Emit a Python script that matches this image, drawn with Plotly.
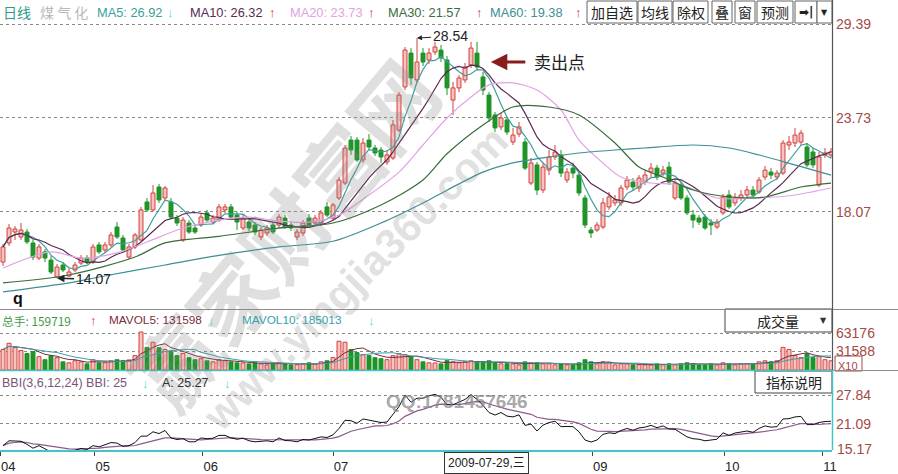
import plotly.graph_objects as go
import pandas as pd

# ---------------- data (daily candles, Apr-Nov 2009) ----------------
OPEN = [15.05, 16.20, 16.86, 16.56, 16.86, 16.20, 15.29, 15.66, 15.17, 14.15,
        14.87, 14.21, 14.57, 14.99, 15.29, 15.05, 16.08, 15.78, 16.08, 17.16,
        16.50, 15.35, 15.96, 16.38, 18.67, 18.19, 19.57, 18.91, 18.67, 17.70,
        16.38, 17.40, 17.10, 17.28, 18.01, 17.46, 17.58, 18.19, 18.37, 17.88,
        17.10, 17.46, 17.28, 16.56, 16.80, 17.28, 17.28, 17.70, 17.28, 16.56,
        16.80, 17.70, 17.40, 17.40, 18.37, 17.70, 18.91, 19.81, 22.40, 22.40,
        21.20, 22.40, 21.92, 21.80, 21.08, 21.32, 23.00, 25.60, 27.64, 26.02,
        27.64, 27.22, 27.70, 27.82, 27.22, 24.81, 25.54, 26.02, 26.92, 27.64,
        26.20, 25.11, 23.91, 23.19, 23.61, 22.28, 22.76, 22.28, 19.81, 20.90,
        19.39, 20.59, 21.38, 21.50, 19.99, 20.71, 20.29, 18.91, 16.98, 16.98,
        17.16, 18.37, 18.61, 18.61, 19.57, 19.87, 19.51, 19.87, 20.47, 20.71,
        20.41, 20.77, 18.91, 19.69, 18.91, 17.88, 17.70, 17.76, 17.40, 17.16,
        18.01, 19.09, 18.61, 18.91, 19.09, 19.39, 19.27, 20.17, 20.47, 20.17,
        20.41, 22.10, 22.22, 22.28, 21.98, 21.68, 19.69, 21.50, 21.50]
HIGH = [16.14, 17.34, 17.22, 17.40, 17.04, 16.38, 16.14, 15.84, 15.41, 14.93,
        15.05, 14.69, 15.05, 15.47, 15.47, 16.14, 16.26, 16.26, 16.86, 17.46,
        16.68, 16.14, 16.80, 18.37, 18.91, 19.69, 19.75, 19.63, 18.91, 17.88,
        17.76, 17.58, 17.28, 17.94, 18.19, 17.88, 18.55, 18.55, 18.55, 18.07,
        17.94, 17.64, 17.46, 17.16, 17.28, 17.46, 17.94, 17.88, 17.46, 17.04,
        17.58, 17.94, 17.88, 18.19, 18.67, 18.61, 20.17, 22.10, 22.64, 22.58,
        22.52, 22.76, 22.10, 21.98, 21.80, 23.61, 25.29, 28.00, 27.94, 28.54,
        27.94, 27.94, 28.31, 28.13, 27.46, 25.90, 26.32, 27.04, 28.31, 28.31,
        26.50, 25.29, 24.09, 24.03, 23.79, 23.13, 23.49, 22.52, 21.32, 21.08,
        21.02, 21.80, 22.10, 21.80, 20.71, 21.02, 20.47, 19.09, 17.16, 17.46,
        18.91, 19.27, 19.09, 19.69, 20.23, 20.11, 20.29, 20.53, 21.02, 20.90,
        20.84, 21.08, 19.99, 19.87, 19.09, 18.19, 17.88, 17.94, 17.64, 17.64,
        19.15, 19.39, 19.21, 19.39, 19.63, 19.63, 20.17, 20.84, 20.71, 20.59,
        22.40, 22.64, 23.13, 23.00, 22.22, 21.92, 21.68, 21.92, 21.92]
LOW = [14.81, 16.02, 16.38, 16.38, 16.14, 15.17, 15.17, 15.05, 14.33, 14.07,
       14.45, 14.15, 14.45, 14.87, 14.93, 14.93, 15.53, 15.60, 15.96, 16.44,
       15.66, 15.23, 15.84, 16.32, 18.07, 18.07, 18.61, 18.79, 17.64, 17.22,
       16.26, 16.74, 16.74, 17.16, 17.46, 17.34, 17.46, 18.01, 17.64, 16.98,
       16.98, 16.92, 16.68, 16.38, 16.62, 16.74, 17.10, 17.04, 16.92, 16.38,
       16.62, 17.16, 17.22, 17.22, 17.76, 17.58, 18.79, 19.69, 21.50, 21.08,
       21.02, 21.80, 21.44, 21.02, 20.90, 21.20, 22.88, 25.41, 25.72, 25.84,
       26.86, 26.98, 27.52, 27.10, 25.11, 23.91, 25.29, 25.84, 26.74, 26.62,
       25.11, 23.49, 22.88, 23.00, 22.70, 22.10, 22.58, 20.59, 19.69, 19.09,
       19.21, 20.29, 21.20, 20.17, 19.81, 20.11, 19.03, 17.10, 16.50, 16.86,
       17.04, 18.19, 18.43, 18.43, 19.39, 19.39, 19.27, 19.69, 20.17, 19.99,
       20.23, 19.69, 18.79, 18.79, 17.88, 17.10, 17.28, 16.98, 16.68, 17.04,
       17.88, 18.25, 18.43, 18.73, 18.91, 18.97, 19.15, 19.99, 20.05, 19.99,
       20.29, 21.80, 21.98, 22.10, 20.77, 20.71, 19.57, 21.32, 21.32]
CLOSE = [15.96, 17.10, 17.04, 16.98, 16.26, 15.35, 15.96, 15.29, 14.45, 14.75,
         14.57, 14.45, 14.87, 15.29, 15.05, 15.96, 15.66, 16.08, 16.68, 16.56,
         15.78, 15.96, 16.68, 18.19, 18.19, 19.21, 18.79, 19.51, 17.76, 17.40,
         17.58, 16.86, 16.86, 17.76, 17.58, 17.70, 18.37, 18.37, 17.76, 17.46,
         17.70, 17.10, 16.86, 16.98, 17.10, 16.86, 17.76, 17.16, 17.10, 16.86,
         17.40, 17.28, 17.70, 18.01, 17.88, 18.49, 19.99, 21.92, 21.80, 21.20,
         22.22, 21.98, 21.62, 21.38, 21.50, 23.31, 25.11, 27.82, 26.14, 27.10,
         27.10, 27.64, 28.00, 27.34, 25.54, 25.54, 26.14, 26.80, 27.94, 26.80,
         25.41, 23.73, 23.13, 23.73, 22.88, 22.70, 23.19, 20.71, 21.02, 19.39,
         20.77, 21.38, 21.68, 20.41, 20.47, 20.41, 19.21, 17.28, 16.80, 17.28,
         18.61, 18.97, 18.79, 19.51, 19.99, 19.57, 20.11, 20.29, 20.71, 20.17,
         20.59, 19.87, 19.81, 18.91, 18.01, 17.58, 17.46, 17.10, 17.28, 17.46,
         18.97, 18.37, 18.91, 19.09, 19.39, 19.09, 19.99, 20.59, 20.29, 20.41,
         22.22, 22.28, 22.70, 22.82, 20.90, 20.90, 21.38, 21.62, 21.68]
VOLUME = [351000, 456000, 386000, 333000, 281000, 316000, 228000, 176000, 246000, 211000,
          140000, 123000, 158000, 140000, 105000, 176000, 123000, 125000, 158000, 176000,
          160000, 172000, 246000, 649000, 386000, 474000, 380000, 351000, 316000, 246000,
          281000, 211000, 176000, 193000, 158000, 140000, 176000, 158000, 140000, 123000,
          120000, 105000, 123000, 105000, 88000, 105000, 123000, 105000, 88000, 90000,
          105000, 123000, 105000, 140000, 158000, 211000, 491000, 474000, 351000, 298000,
          263000, 246000, 211000, 193000, 176000, 246000, 281000, 263000, 228000, 176000,
          140000, 123000, 120000, 105000, 159719, 140000, 123000, 140000, 158000, 145000,
          140000, 158000, 123000, 105000, 108000, 105000, 88000, 140000, 123000, 125000,
          105000, 105000, 88000, 105000, 88000, 86000, 123000, 176000, 140000, 105000,
          140000, 123000, 88000, 105000, 105000, 88000, 90000, 88000, 86000, 105000,
          88000, 105000, 88000, 105000, 123000, 105000, 88000, 90000, 105000, 88000,
          123000, 105000, 88000, 105000, 108000, 105000, 140000, 158000, 140000, 158000,
          386000, 351000, 246000, 211000, 281000, 211000, 228000, 176000, 158000]

# slow moving averages (candle index -> price)
MA20_IDX = [0, 8, 13, 19, 24, 30, 36, 41, 46, 51, 56, 61, 66, 70, 74, 78, 81, 85, 89, 93, 96, 100, 103, 108, 113, 119, 126, 132, 138]
MA20_VAL = [14.69, 15.66, 15.29, 15.60, 16.26, 17.10, 17.58, 17.76, 17.52, 17.46, 17.88, 19.09, 20.47, 22.10, 23.73, 24.99, 25.72, 25.84, 25.41, 24.21, 22.40, 21.02, 20.17, 19.81, 19.69, 18.91, 18.91, 19.09, 19.51]
MA30_IDX = [0, 11, 22, 27, 36, 46, 55, 63, 70, 74, 80, 85, 91, 96, 102, 106, 110, 115, 121, 127, 133, 138]
MA30_VAL = [13.79, 14.27, 15.35, 16.20, 16.60, 17.10, 17.40, 18.49, 19.99, 21.57, 23.31, 24.39, 24.39, 23.91, 22.22, 20.77, 20.17, 19.39, 18.97, 18.97, 19.57, 19.81]
MA60_IDX = [0, 11, 16, 27, 36, 46, 55, 63, 70, 74, 80, 85, 91, 96, 102, 107, 115, 121, 126, 132, 138]
MA60_VAL = [13.25, 13.79, 14.15, 14.87, 15.45, 15.96, 16.30, 17.40, 18.61, 19.38, 20.47, 21.02, 21.38, 21.62, 21.80, 21.92, 22.10, 21.92, 21.50, 20.90, 20.29]

MONTH_TICK_POS = [-0.45, 15.3, 33.3, 55.0, 98.2, 120.2, 136.5]
MONTH_TICK_TEXT = ["04", "05", "06", "07", "09", "10", "11"]
PRICE_TICKS = [18.07, 23.73, 29.39]
VOL_TICKS = [315880, 631760]
VOL_TICK_TEXT = ["31588", "63176"]
BBI_TICKS = [21.09, 27.84]
BBI_LOW_LABEL = 15.17

HEADER_MA = [("MA5", "26.92", "↓"), ("MA10", "26.32", "↑"), ("MA20", "23.73", "↑"),
             ("MA30", "21.57", "↑"), ("MA60", "19.38", "↑")]
VOL_HEADER = [("总手", "159719", "↑"), ("MAVOL5", "131598", "↓"), ("MAVOL10", "185013", "↓")]
BBI_HEADER = [("BBI(3,6,12,24) BBI", "25", "↓"), ("A", "25.27", "↓")]
CROSS_DATE = "2009-07-29,三"

# ---------------- derived series ----------------
n = min(len(OPEN), len(HIGH), len(LOW), len(CLOSE), len(VOLUME))
idx = list(range(n))
o, h, l, c, v = OPEN[:n], HIGH[:n], LOW[:n], CLOSE[:n], VOLUME[:n]
up = [c[i] >= o[i] for i in idx]
cs = pd.Series(c, dtype=float)
ma5 = cs.rolling(5, min_periods=1).mean()
ma10 = cs.rolling(10, min_periods=1).mean()
bbi = sum(cs.rolling(k, min_periods=1).mean() for k in (3, 6, 12, 24)) / 4
vs = pd.Series(v, dtype=float)
mavol5 = vs.rolling(5, min_periods=1).mean()
mavol10 = vs.rolling(10, min_periods=1).mean()

# ---------------- styling / geometry ----------------
W, H, PW = 898, 474, 832
FONT = "Liberation Sans, Noto Sans CJK SC, sans-serif"
CJK = "Noto Sans CJK SC, sans-serif"
RED = "#d4403c"
RED_FILL = "#f6c4c2"
GREEN = "#1f9428"
AXIS_TXT = "#a34a46"
TEAL_AX = "#45c3c8"
CYAN_ARROW = "#6fd3d3"
UP_ARROW = "#d8262a"
MA_COLORS = {"MA5": "#3c9f9c", "MA10": "#5a2a52", "MA20": "#e3a2e3", "MA30": "#3b6b3b", "MA60": "#3d8f94"}
PRICE_PX = 16.6      # pixels per price unit in main panel
VOL_PX = 631760 / 37  # lots per pixel in volume panel
BBI_PX = 54 / 12.67   # pixels per unit in BBI panel

fig = go.Figure()

# candle wicks
for sel, col in ((True, RED), (False, GREEN)):
    xs, ys = [], []
    for i in idx:
        if up[i] != sel:
            continue
        top, bot = max(o[i], c[i]), min(o[i], c[i])
        xs += [i, i, None, i, i, None]
        ys += [h[i], top, None, bot, l[i], None]
    fig.add_trace(go.Scatter(x=xs, y=ys, mode="lines", line=dict(color=col, width=1),
                             xaxis="x", yaxis="y", hoverinfo="skip"))
# candle bodies
for sel, fill, edge in ((True, RED_FILL, RED), (False, GREEN, GREEN)):
    ii = [i for i in idx if up[i] == sel]
    fig.add_trace(go.Bar(x=ii, y=[max(abs(c[i] - o[i]), 0.05) for i in ii],
                         base=[min(o[i], c[i]) for i in ii], width=0.66,
                         marker=dict(color=fill, line=dict(color=edge, width=1)),
                         xaxis="x", yaxis="y", hoverinfo="skip"))
# moving averages
fig.add_trace(go.Scatter(x=idx, y=ma5, mode="lines", line=dict(color=MA_COLORS["MA5"], width=1.2), xaxis="x", yaxis="y"))
fig.add_trace(go.Scatter(x=idx, y=ma10, mode="lines", line=dict(color=MA_COLORS["MA10"], width=1.2), xaxis="x", yaxis="y"))
for name, xi, yv in (("MA20", MA20_IDX, MA20_VAL), ("MA30", MA30_IDX, MA30_VAL), ("MA60", MA60_IDX, MA60_VAL)):
    fig.add_trace(go.Scatter(x=xi, y=yv, mode="lines", line=dict(color=MA_COLORS[name], width=1.2, shape="spline", smoothing=0.8),
                             xaxis="x", yaxis="y"))

# volume bars
for sel, fill, edge in ((True, RED_FILL, RED), (False, GREEN, GREEN)):
    ii = [i for i in idx if up[i] == sel]
    fig.add_trace(go.Bar(x=ii, y=[v[i] for i in ii], width=0.66,
                         marker=dict(color=fill, line=dict(color=edge, width=1)),
                         xaxis="x", yaxis="y2", hoverinfo="skip"))
fig.add_trace(go.Scatter(x=idx, y=mavol5, mode="lines", line=dict(color="#7b2d3b", width=1), xaxis="x", yaxis="y2"))
fig.add_trace(go.Scatter(x=idx, y=mavol10, mode="lines", line=dict(color="#3aa0a8", width=1), xaxis="x", yaxis="y2"))

# BBI panel
fig.add_trace(go.Scatter(x=idx, y=bbi, mode="lines", line=dict(color="#8e5a8e", width=1.2), xaxis="x", yaxis="y3"))
fig.add_trace(go.Scatter(x=idx, y=c, mode="lines", line=dict(color="#111111", width=1), xaxis="x", yaxis="y3"))


def py(y):
    return 1 - y / H


def px(x):
    return x / PW


main_top_price = 29.39 + 24 / PRICE_PX
main_bot_price = 29.39 - (309 - 24) / PRICE_PX
yax_common = dict(side="right", anchor="x", showline=False, zeroline=False, ticks="",
                  showgrid=True, gridcolor="#8a8a8a", griddash="dot", gridwidth=1,
                  tickfont=dict(color=AXIS_TXT, size=14, family=FONT), automargin=False,
                  fixedrange=True, ticklabelstandoff=3)
fig.update_layout(
    width=W, height=H, template="none",
    margin=dict(l=0, r=W - PW, t=0, b=0, autoexpand=False),
    paper_bgcolor="white", plot_bgcolor="white", showlegend=False,
    barmode="overlay", hovermode=False, font=dict(family=FONT, size=13, color="#222"),
    xaxis=dict(domain=[0, 1], range=[-0.5, (PW - 3) / 6], anchor="y3", showgrid=False,
               zeroline=False, showline=True, linecolor=TEAL_AX, linewidth=2,
               tickvals=MONTH_TICK_POS, ticktext=MONTH_TICK_TEXT, ticks="outside", ticklen=4,
               tickcolor="#444", tickfont=dict(size=13, color="#222", family=FONT),
               ticklabelshift=8, ticklabelstandoff=-1, automargin=False, fixedrange=True),
    yaxis=dict(domain=[py(309), 1], range=[main_bot_price, main_top_price],
               tickvals=PRICE_TICKS, ticktext=[f"{t:.2f}" for t in PRICE_TICKS], **yax_common),
    yaxis2=dict(domain=[py(370), py(310)], range=[0, 60 * VOL_PX],
                tickvals=VOL_TICKS, ticktext=VOL_TICK_TEXT, **yax_common),
    yaxis3=dict(domain=[py(450), py(372)],
                range=[BBI_LOW_LABEL - 1 / BBI_PX, 27.84 + 23 / BBI_PX],
                tickvals=BBI_TICKS, ticktext=[f"{t:.2f}" for t in BBI_TICKS], **yax_common),
)

ANN = []
SH = []


def txt(xp, yp, s, color="#222", size=13.5, anchor="left", family=FONT, **kw):
    ANN.append(dict(x=px(xp), y=py(yp), xref="paper", yref="paper", text=s, showarrow=False,
                    xanchor=anchor, yanchor="middle", font=dict(color=color, size=size, family=family), **kw))


def line(x0, y0, x1, y1, color, width=1):
    SH.append(dict(type="line", xref="paper", yref="paper", x0=px(x0), x1=px(x1), y0=py(y0), y1=py(y1),
                   line=dict(color=color, width=width)))


def box(x0, y0, x1, y1, color="#555", fill="white"):
    SH.append(dict(type="rect", xref="paper", yref="paper", x0=px(x0), x1=px(x1), y0=py(y1), y1=py(y0),
                   line=dict(color=color, width=1), fillcolor=fill))


# watermark
txt(282, 232, "<b>赢家财富网</b>", color="rgba(135,135,135,0.27)", size=84, anchor="center",
    family=CJK, textangle=-50)
txt(355, 278, "<b>www.yingjia360.com</b>", color="rgba(135,135,135,0.27)", size=42, anchor="center",
    textangle=-45)
txt(457, 401, "<b>QQ:1781457646</b>", color="rgba(130,130,130,0.7)", size=19, anchor="center")

# header row of main panel
txt(1, 12, "日线", color="#2f9b8a", size=14, family=CJK)
txt(38, 12, "煤 气 化", color="#b9b9b9", size=14, family=CJK)
ma_x = [95, 188, 288, 386, 488]
arr_x = [165, 267, 366, 474, 573]
for (name, val, arr), x0, xa in zip(HEADER_MA, ma_x, arr_x):
    txt(x0, 12, f"{name}: {val}", color=MA_COLORS[name], size=12.8)
    txt(xa, 12, f"<b>{arr}</b>", color=CYAN_ARROW if arr == "↓" else UP_ARROW, size=13)

# buttons
for label, x0, x1 in (("加自选", 587, 637), ("均线", 638, 672), ("除权", 673, 708), ("叠", 712, 732),
                      ("窗", 735, 755), ("预测", 757, 793), ("➡|", 795, 817), ("▼", 817, 832)):
    box(x0, 1, x1, 23, color="#666")
    fam = CJK if label not in ("➡|", "▼") else "DejaVu Sans"
    sz = 14 if fam == CJK else (12 if label == "➡|" else 8)
    txt((x0 + x1) / 2, 12.5, f"<b>{label}</b>" if label == "➡|" else label, color="#222", size=sz,
        anchor="center", family=fam)

# high/low markers
imax = max(idx, key=lambda i: h[i])
imin = min(idx, key=lambda i: l[i])
ANN.append(dict(x=imax, y=h[imax], xref="x", yref="y", text=f"{h[imax]:.2f}", showarrow=True,
                ax=33, ay=-2, arrowhead=2, arrowsize=1, arrowwidth=1, arrowcolor="#222",
                font=dict(size=14, color="#222", family=FONT)))
ANN.append(dict(x=imin, y=l[imin], xref="x", yref="y", text=f"{l[imin]:.2f}", showarrow=True,
                ax=36, ay=1, arrowhead=2, arrowsize=1, arrowwidth=1.5, arrowcolor="#222",
                font=dict(size=14, color="#222", family=FONT)))
# sell point arrow
ANN.append(dict(x=81.3, y=27.10, xref="x", yref="y", text="", showarrow=True, ax=36, ay=0,
                arrowhead=2, arrowsize=1.1, arrowwidth=3, arrowcolor="#8b1c1c"))
txt(532, 62, "卖出点", color="#222", size=17, family=CJK)
txt(18, 298, "<b>q</b>", color="#111", size=16, anchor="center")

# volume header
vx = [(0, 88), (107, 206), (240, 366)]
vcol = ["#3f9a3f", "#7b2d3b", "#3aa0a8"]
for (name, val, arr), (x0, xa), col in zip(VOL_HEADER, vx, vcol):
    fam = CJK if name == "总手" else FONT
    txt(x0, 320, f"{name}: {val}", color=col, size=11.8, family=fam)
    txt(xa, 320, f"<b>{arr}</b>", color=CYAN_ARROW if arr == "↓" else UP_ARROW, size=13)
box(725, 309, 832, 332, color="#444")
txt(778, 320.5, "成交量", color="#222", size=14, anchor="center", family=CJK)
txt(823, 320, "▼", color="#333", size=8, anchor="center", family="DejaVu Sans")
box(835, 356, 862, 371, color=AXIS_TXT, fill="rgba(0,0,0,0)")
txt(848, 365.5, "X10", color=AXIS_TXT, size=11, anchor="center")

# BBI header
bx = [(0, 140), (160, 222)]
bcol = ["#7a5577", "#333333"]
for (name, val, arr), (x0, xa), col in zip(BBI_HEADER, bx, bcol):
    txt(x0, 383, f"{name}: {val}", color=col, size=12.5)
    txt(xa, 383, f"<b>{arr}</b>", color=CYAN_ARROW, size=13)
box(755, 371, 832, 393, color="#444")
txt(793.5, 382, "指标说明", color="#222", size=14, anchor="center", family=CJK)
ANN.append(dict(x=1, xshift=3, y=BBI_LOW_LABEL, xref="paper", yref="y3", text=f"{BBI_LOW_LABEL:.2f}",
                showarrow=False, xanchor="left", yanchor="middle",
                font=dict(color=AXIS_TXT, size=14, family=FONT)))

# crosshair date box
txt(486, 462.5, CROSS_DATE, color="#222", size=12, anchor="center", family=FONT,
    bordercolor="#333", borderwidth=1, bgcolor="white", borderpad=3)

# frame lines
line(0, 309.5, W, 309.5, "#8c8c8c")
line(0, 370.5, PW, 370.5, TEAL_AX, 1.5)
line(PW, 370.5, W, 370.5, "#8c8c8c")
line(PW + 0.5, 0, PW + 0.5, 370, "#555", 1.2)
line(PW + 0.5, 370, PW + 0.5, 450, TEAL_AX, 1.5)

fig.update_layout(annotations=ANN, shapes=SH)
fig.write_html("out.html", config={"displayModeBar": False, "staticPlot": True},
               post_script="document.body.style.margin='0';document.body.style.padding='0';")
